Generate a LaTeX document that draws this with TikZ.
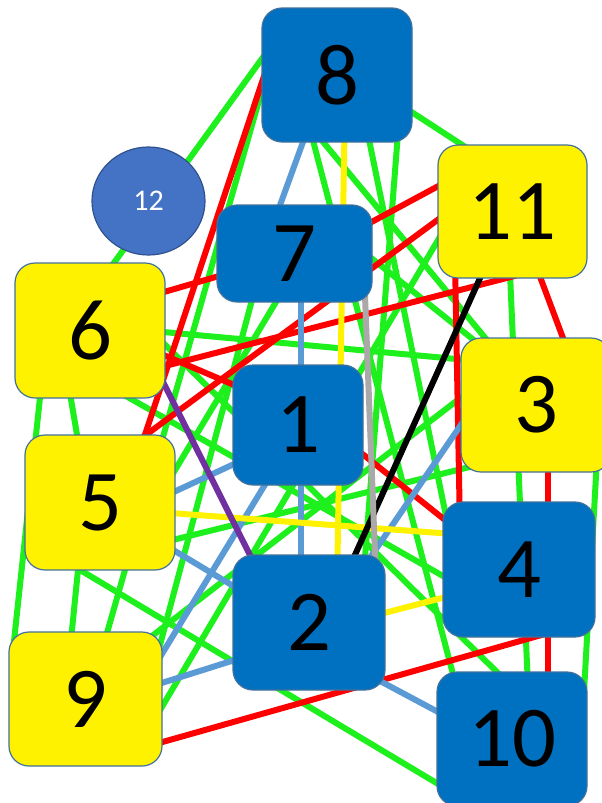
\documentclass[tikz,border=0pt]{standalone}
\usepackage{fontspec}
\setmainfont{Carlito}
\usetikzlibrary{calc,shapes.geometric}
\definecolor{nodeblue}{RGB}{0,112,192}
\definecolor{nodeedge}{RGB}{65,113,156}
\definecolor{circblue}{RGB}{68,114,196}
\definecolor{circedge}{RGB}{47,82,143}
\definecolor{egreen}{RGB}{30,240,30}
\definecolor{elblue}{RGB}{91,155,213}
\definecolor{epurple}{RGB}{112,48,160}
\definecolor{egray}{RGB}{170,168,168}
\newcommand\E[5]{\draw[#1] ($(#2)+(#3)$) -- ($(#4)+(#5)$);}
\begin{document}
\begin{tikzpicture}[x=0.75pt,y=-0.75pt,
  box/.style={rectangle, rounded corners=15pt, draw=nodeedge, line width=0.9pt, inner sep=0pt, font=\fontsize{65}{65}\selectfont},
  bluebox/.style={box, fill=nodeblue},
  yelbox/.style={box, fill=yellow},
  edge/.style={line width=4.5pt},
  gr/.style={edge, egreen},
  rd/.style={edge, red},
  lb/.style={edge, elblue},
  yl/.style={edge, yellow},
  pu/.style={edge, epurple},
  bk/.style={edge, black},
  gy/.style={edge, egray}]
\fill[white] (0,0) rectangle (601,803);
\useasboundingbox (0,0) rectangle (601,803);
% node positions (centres)
\coordinate (n8) at (337,75);
\coordinate (n12) at (148.5,201);
\coordinate (n11) at (512.5,211.5);
\coordinate (n7) at (294.5,253.5);
\coordinate (n6) at (90,330.5);
\coordinate (n1) at (298,425);
\coordinate (n3) at (536,405);
\coordinate (n5) at (100,502.5);
\coordinate (n4) at (519,569.5);
\coordinate (n2) at (309,622.5);
\coordinate (n9) at (85.5,699);
\coordinate (n10) at (512,739);
% green edges
\E{gr}{n8}{-47,-55}{n6}{5,-41.5}
\E{gr}{n8}{-67,-13}{n9}{9.5,-24}
\E{gr}{n8}{-32,35}{n10}{-47,-19}
\E{gr}{n8}{-32,45}{n3}{-16,-25}
\E{gr}{n8}{28,45}{n4}{-64,-9.5}
\E{gr}{n8}{62,45}{n2}{55,-52.5}
\E{gr}{n8}{53,23}{n11}{-22.5,-48.5}
\E{gr}{n6}{30,-2.5}{n3}{-36,-42}
\E{gr}{n9}{-73.5,-39}{n6}{-46,29.5}
\E{gr}{n6}{-24,39.5}{n5}{-17,-32.5}
\E{gr}{n5}{-19,37.5}{n9}{-16.5,-39}
\E{gr}{n5}{-50,49.5}{n10}{-42,64}
\E{gr}{n11}{-3.5,38.5}{n10}{17,-29}
\E{gr}{n3}{62,35}{n10}{71,-29}
\E{gr}{n7}{-34.5,16.5}{n9}{54.5,21}
\E{gr}{n7}{-9.5,33.5}{n5}{30,42.5}
\E{gr}{n6}{50,-10.5}{n10}{-7,-59}
\E{gr}{n6}{20,56.5}{n4}{-39,27.5}
\E{gr}{n7}{35.5,-28.5}{n3}{-56,-60}
\E{gr}{n5}{40,45.5}{n3}{-46,57}
\E{gr}{n9}{44.5,-46}{n3}{-46,-30}
\E{gr}{n9}{54.5,45}{n11}{-42.5,-25.5}
% red edges
\E{rd}{n8}{-67,-17}{n5}{25,-7.5}
\E{rd}{n11}{-42.5,-15.5}{n5}{20,-48.5}
\E{rd}{n6}{50,-31.5}{n7}{-44.5,13.5}
\E{rd}{n7}{45.5,-14.5}{n11}{-42.5,-42.5}
\E{rd}{n6}{40,44.5}{n11}{17.5,60.5}
\E{rd}{n6}{50,14.5}{n1}{-38,-29}
\E{rd}{n1}{32,3}{n4}{-39,-21.5}
\E{rd}{n11}{17.5,38.5}{n3}{39,-35}
\E{rd}{n3}{12,35}{n10}{36,-29}
\E{rd}{n11}{-57.5,48.5}{n4}{-59,-39.5}
\E{rd}{n9}{34.5,55}{n4}{26,64.5}
% light blue edges
\E{lb}{n8}{-26,45}{n7}{-23.5,-23.5}
\E{lb}{n7}{6.5,26.5}{n2}{-8,-22.5}
\E{lb}{n5}{50,0.5}{n1}{-38,27}
\E{lb}{n5}{40,27.5}{n2}{-49,-20.5}
\E{lb}{n9}{44.5,-6}{n2}{-49,29.5}
\E{lb}{n9}{54.5,-9}{n1}{-18,35}
\E{lb}{n2}{41,42.5}{n10}{-42,-10}
\E{lb}{n2}{41,-35.5}{n3}{-56,-8}
% yellow, purple, black, grey edges
\E{yl}{n8}{8,25}{n2}{28,-32.5}
\E{yl}{n5}{30,7.5}{n4}{-39,-33.5}
\E{yl}{n2}{41,-0.5}{n4}{-39,18.5}
\E{pu}{n6}{50,5.5}{n2}{-39,-27.5}
\E{bk}{n11}{-17.5,33.5}{n2}{36,-45.5}
\E{gy}{n7}{69.5,16.5}{n2}{67,-42.5}
% nodes
\node[bluebox, minimum width=112.5pt, minimum height=100.5pt] (b8) at (n8) {8};
\node[ellipse, fill=circblue, draw=circedge, line width=0.9pt, minimum width=84.75pt, minimum height=81pt, inner sep=0pt, text=white, font=\fontsize{22.5}{22.5}\selectfont] (b12) at (n12) {12};
\node[yelbox, minimum width=111.75pt, minimum height=99.75pt] (b11) at (n11) {11};
\node[bluebox, minimum width=116.25pt, minimum height=72.75pt] (b7) at (n7) {7};
\node[yelbox, minimum width=112.5pt, minimum height=101.25pt] (b6) at (n6) {6};
\node[bluebox, minimum width=97.5pt, minimum height=90pt] (b1) at (n1) {1};
\node[yelbox, minimum width=112.5pt, minimum height=100.5pt] (b3) at (n3) {3};
\node[yelbox, minimum width=112.5pt, minimum height=101.25pt] (b5) at (n5) {5};
\node[bluebox, minimum width=114pt, minimum height=101.25pt] (b4) at (n4) {4};
\node[bluebox, minimum width=114pt, minimum height=101.25pt] (b2) at (n2) {2};
\node[yelbox, minimum width=114.75pt, minimum height=100.5pt] (b9) at (n9) {9};
\node[bluebox, minimum width=112.5pt, minimum height=100.5pt] (b10) at (n10) {10};
\end{tikzpicture}
\end{document}
